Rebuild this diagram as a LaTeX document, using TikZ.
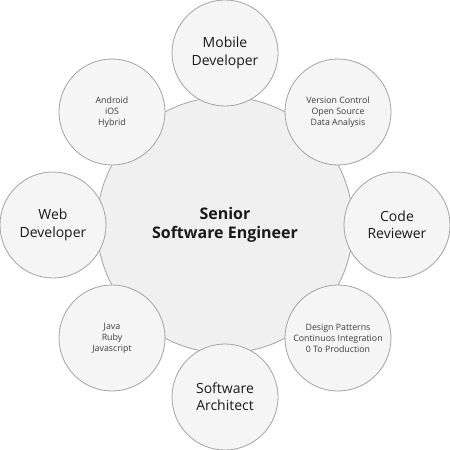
\documentclass[tikz,border=0pt]{standalone}
\usepackage{fontspec}
\setmainfont{Open Sans}
\definecolor{ringline}{HTML}{A3A3A3}
\definecolor{outerfill}{HTML}{F5F5F5}
\definecolor{centerfill}{HTML}{F0F0F0}
\definecolor{txt}{HTML}{1A1A1A}
\begin{document}
\begin{tikzpicture}[x=0.75pt,y=-0.75pt,
  hub/.style={circle,draw=ringline,line width=0.6pt,fill=centerfill,inner sep=0pt,minimum size=192pt,align=center,text=txt,font=\fontsize{12}{14.5}\selectfont\bfseries,execute at begin node={\rule{0pt}{15pt}}},
  bigsat/.style={circle,draw=ringline,line width=0.6pt,fill=outerfill,inner sep=0pt,minimum size=79.5pt,align=center,text=txt,font=\fontsize{10.5}{13}\selectfont,execute at begin node={\rule{0pt}{13pt}}},
  smallsat/.style={circle,draw=ringline,line width=0.6pt,fill=outerfill,inner sep=0pt,minimum size=79.5pt,align=center,text=txt!85,font=\fontsize{6.6}{8.3}\selectfont,execute at begin node={\rule{0pt}{9pt}}}]
\useasboundingbox[fill=white] (0,0) rectangle (450,450);
\node[hub] (c) at (225,225) {Senior\\Software Engineer};
\node[bigsat] (mob) at (225,53) {Mobile\\Developer};
\node[bigsat] (web) at (53,225) {Web\\Developer};
\node[bigsat] (code) at (397,225) {Code\\Reviewer};
\node[bigsat] (arch) at (225,397) {Software\\Architect};
\node[smallsat] (andr) at (112,112) {Android\\iOS\\Hybrid};
\node[smallsat] (vers) at (338,112) {Version Control\\Open Source\\Data Analysis};
\node[smallsat] (java) at (112,338) {Java\\Ruby\\Javascript};
\node[smallsat] (desi) at (338,338) {Design Patterns\\Continuos Integration\\0 To Production};
\end{tikzpicture}
\end{document}
